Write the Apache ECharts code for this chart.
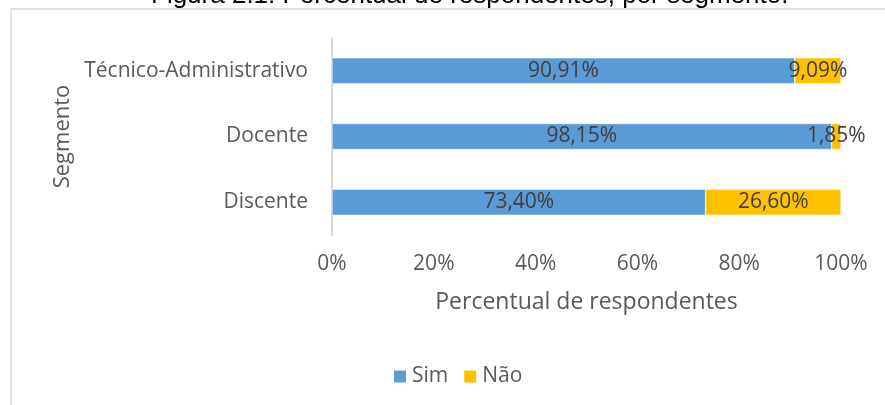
<!DOCTYPE html>
<html>
<head>
<meta charset="utf-8">
<script src="https://cdn.jsdelivr.net/npm/echarts@6/dist/echarts.min.js"></script>
<style>html,body{margin:0;padding:0;background:#fff;}#c{width:885px;height:405px;}</style>
</head>
<body>
<div id="c"></div>
<script>
var categories = ['Discente', 'Docente', 'Técnico-Administrativo'];
var simValues = [73.40, 98.15, 90.91];
var naoValues = [26.60, 1.85, 9.09];
var xTicks = [0, 20, 40, 60, 80, 100];

var FONT = '"Open Sans", "Noto Sans", sans-serif';
function fmt(v) { return v.toFixed(2).replace('.', ',') + '%'; }

var chart = echarts.init(document.getElementById('c'), null, {renderer: 'canvas'});
chart.setOption({
  animation: false,
  backgroundColor: '#fff',
  title: {
    text: 'Figura 2.1: Percentual de respondentes, por segmento.',
    left: 146,
    top: -22,
    textStyle: {fontFamily: '"Liberation Sans", Arial, sans-serif', fontSize: 26, fontWeight: 'normal', color: '#000'}
  },
  graphic: [{
    type: 'rect', shape: {x: 11, y: 9, width: 900, height: 500},
    style: {fill: 'none', stroke: '#d9d9d9', lineWidth: 1.5}, silent: true, z: -1
  }],
  grid: {left: 332, right: 44, top: 38, bottom: 170, containLabel: false},
  legend: {
    data: ['Sim', 'Não'], bottom: 13, left: 387,
    itemWidth: 14, itemHeight: 14, itemGap: 14, icon: 'rect',
    textStyle: {fontFamily: FONT, fontSize: 21, color: '#595959'}
  },
  xAxis: {
    type: 'value', min: xTicks[0], max: xTicks[xTicks.length - 1], interval: 20,
    axisLine: {show: false}, axisTick: {show: false}, splitLine: {show: false},
    axisLabel: {formatter: '{value}%', fontFamily: FONT, fontSize: 21, color: '#595959', margin: 19},
    name: 'Percentual de respondentes', nameLocation: 'middle', nameGap: 56,
    nameTextStyle: {fontFamily: FONT, fontSize: 23, color: '#595959'}
  },
  yAxis: {
    type: 'category', data: categories,
    axisLine: {show: true, lineStyle: {color: '#d9d9d9', width: 2}},
    axisTick: {show: false},
    axisLabel: {fontFamily: FONT, fontSize: 21, color: '#595959', margin: 24},
    name: 'Segmento', nameLocation: 'middle', nameRotate: 90, nameGap: 247,
    nameTextStyle: {fontFamily: FONT, fontSize: 22, color: '#595959'}
  },
  series: [{
    name: 'Sim', type: 'bar', stack: 'total', data: simValues, barWidth: 26,
    itemStyle: {color: '#5B9BD5', borderColor: '#fff', borderWidth: 0.5},
    label: {show: true, position: 'inside', formatter: function(p){return fmt(p.value);},
      fontFamily: FONT, fontSize: 21, color: '#404040'}
  }, {
    name: 'Não', type: 'bar', stack: 'total', data: naoValues, barWidth: 26,
    itemStyle: {color: '#FFC000', borderColor: '#fff', borderWidth: 0.5},
    label: {show: true, position: 'inside', formatter: function(p){return fmt(p.value);},
      fontFamily: FONT, fontSize: 21, color: '#404040'}
  }]
});
</script>
</body>
</html>
